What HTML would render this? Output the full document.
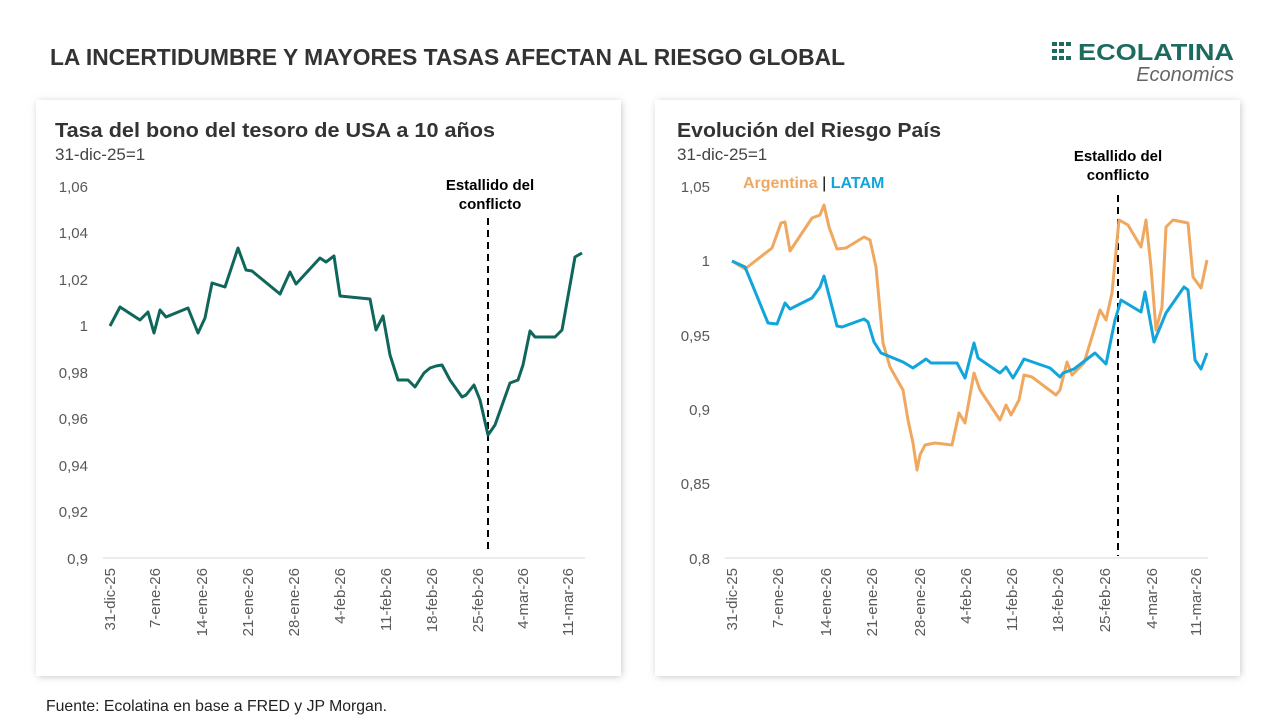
<!DOCTYPE html>
<html><head><meta charset="utf-8"><style>
body{margin:0;width:1280px;height:720px;background:#fff;overflow:hidden;font-family:"Liberation Sans",sans-serif}
</style></head><body>
<svg width="1280" height="720" viewBox="0 0 1280 720" xmlns="http://www.w3.org/2000/svg" font-family="Liberation Sans, sans-serif">
<defs><filter id="sh" x="-5%" y="-5%" width="110%" height="110%"><feGaussianBlur stdDeviation="4"/></filter></defs>
<rect width="1280" height="720" fill="#fff"/>
<text x="50" y="65" font-size="23" font-weight="bold" fill="#333" textLength="795" lengthAdjust="spacingAndGlyphs">LA INCERTIDUMBRE Y MAYORES TASAS AFECTAN AL RIESGO GLOBAL</text>
<g fill="#1d6b5e">
<rect x="1052" y="42" width="5" height="4"/><rect x="1059" y="42" width="5" height="4"/><rect x="1066" y="42" width="5" height="4"/>
<rect x="1052" y="49" width="5" height="4"/><rect x="1059" y="49" width="5" height="4"/>
<rect x="1052" y="56" width="5" height="4"/><rect x="1059" y="56" width="5" height="4"/><rect x="1066" y="56" width="5" height="4"/>
</g>
<text x="1078" y="60" font-size="23" font-weight="bold" fill="#1d6b5e" textLength="156" lengthAdjust="spacingAndGlyphs">ECOLATINA</text>
<text x="1234" y="81" font-size="20" font-style="italic" fill="#666" text-anchor="end">Economics</text>

<rect x="38" y="102" width="583" height="574" fill="#bbb" filter="url(#sh)"/>
<rect x="36" y="100" width="585" height="576" fill="#fff"/>
<rect x="657" y="102" width="583" height="574" fill="#bbb" filter="url(#sh)"/>
<rect x="655" y="100" width="585" height="576" fill="#fff"/>

<text x="55" y="137" font-size="20" font-weight="bold" fill="#333" textLength="440" lengthAdjust="spacingAndGlyphs">Tasa del bono del tesoro de USA a 10 años</text>
<text x="55" y="160" font-size="17" fill="#444">31-dic-25=1</text>
<text x="677" y="137" font-size="20" font-weight="bold" fill="#333" textLength="264" lengthAdjust="spacingAndGlyphs">Evolución del Riesgo País</text>
<text x="677" y="160" font-size="17" fill="#444">31-dic-25=1</text>

<g font-size="15" fill="#595959" text-anchor="end">
<text x="88" y="192">1,06</text><text x="88" y="238">1,04</text><text x="88" y="285">1,02</text><text x="88" y="331">1</text><text x="88" y="378">0,98</text><text x="88" y="424">0,96</text><text x="88" y="471">0,94</text><text x="88" y="517">0,92</text><text x="88" y="564">0,9</text>
<text x="710" y="192">1,05</text><text x="710" y="266">1</text><text x="710" y="341">0,95</text><text x="710" y="415">0,9</text><text x="710" y="489">0,85</text><text x="710" y="564">0,8</text>
</g>
<line x1="103" y1="558" x2="585" y2="558" stroke="#d9d9d9"/>
<line x1="725" y1="558" x2="1208" y2="558" stroke="#d9d9d9"/>
<g font-size="15" fill="#595959" text-anchor="end">
<text transform="translate(115,568) rotate(-90)">31-dic-25</text>
<text transform="translate(160,568) rotate(-90)">7-ene-26</text>
<text transform="translate(207,568) rotate(-90)">14-ene-26</text>
<text transform="translate(253,568) rotate(-90)">21-ene-26</text>
<text transform="translate(299,568) rotate(-90)">28-ene-26</text>
<text transform="translate(345,568) rotate(-90)">4-feb-26</text>
<text transform="translate(391,568) rotate(-90)">11-feb-26</text>
<text transform="translate(437,568) rotate(-90)">18-feb-26</text>
<text transform="translate(483,568) rotate(-90)">25-feb-26</text>
<text transform="translate(528,568) rotate(-90)">4-mar-26</text>
<text transform="translate(573,568) rotate(-90)">11-mar-26</text>
<text transform="translate(737,568) rotate(-90)">31-dic-25</text>
<text transform="translate(783,568) rotate(-90)">7-ene-26</text>
<text transform="translate(831,568) rotate(-90)">14-ene-26</text>
<text transform="translate(877,568) rotate(-90)">21-ene-26</text>
<text transform="translate(925,568) rotate(-90)">28-ene-26</text>
<text transform="translate(971,568) rotate(-90)">4-feb-26</text>
<text transform="translate(1017,568) rotate(-90)">11-feb-26</text>
<text transform="translate(1063,568) rotate(-90)">18-feb-26</text>
<text transform="translate(1110,568) rotate(-90)">25-feb-26</text>
<text transform="translate(1157,568) rotate(-90)">4-mar-26</text>
<text transform="translate(1201,568) rotate(-90)">11-mar-26</text>
</g>

<line x1="488" y1="218" x2="488" y2="550" stroke="#000" stroke-width="2" stroke-dasharray="7,5"/>
<text x="490" y="190" font-size="15" font-weight="bold" text-anchor="middle" fill="#000">Estallido del</text>
<text x="490" y="209" font-size="15" font-weight="bold" text-anchor="middle" fill="#000">conflicto</text>
<line x1="1118" y1="195" x2="1118" y2="556" stroke="#000" stroke-width="2" stroke-dasharray="7,5"/>
<text x="1118" y="161" font-size="15" font-weight="bold" text-anchor="middle" fill="#000">Estallido del</text>
<text x="1118" y="180" font-size="15" font-weight="bold" text-anchor="middle" fill="#000">conflicto</text>

<polyline fill="none" stroke="#0f665a" stroke-width="3" stroke-linejoin="round" points="110,326 120,307 140,320 148,312 154,333 160,310 166,317 188,308 198,333 205,318 212,283 225,287 238,248 246,270 252,271 280,294 290,272 296,284 320,258 326,262 334,256 340,296 370,299 376,330 383,316 390,355 398,380 408,380 415,387 424,373 430,368 436,366 442,365 450,380 462,397 466,395 474,385 480,400 488,435 495,425 510,383 518,380 523,365 530,331 535,337 555,337 562,330 575,257 582,253"/>

<text x="743" y="188" font-size="16" font-weight="bold" fill="#f0a860">Argentina <tspan fill="#000" font-weight="normal">|</tspan> <tspan fill="#12a5dc">LATAM</tspan></text>

<polyline fill="none" stroke="#f0a860" stroke-width="3" stroke-linejoin="round" points="732,261 745,269 772,248 781,223 785,222 790,251 812,218 820,215 824,205 829,227 837,249 846,248 864,237 870,240 876,267 883,343 890,367 903,390 908,420 913,443 917,470 920,455 925,445 935,443 952,445 959,413 965,423 974,373 980,390 1000,420 1006,405 1011,415 1019,400 1024,375 1032,377 1056,395 1060,390 1067,362 1072,375 1084,363 1095,327 1100,310 1106,320 1112,293 1119,220 1128,225 1141,247 1146,220 1151,267 1156,330 1162,307 1166,227 1173,220 1188,223 1193,277 1201,288 1207,260"/>
<polyline fill="none" stroke="#12a5dc" stroke-width="3" stroke-linejoin="round" points="732,261 745,267 768,323 777,324 785,303 790,309 812,298 820,287 824,276 837,326 842,327 864,319 868,322 874,342 881,353 903,362 913,368 926,359 931,363 957,363 965,378 974,343 978,358 1000,373 1006,367 1013,378 1019,368 1024,359 1050,368 1060,377 1063,373 1074,369 1095,353 1106,364 1115,320 1121,300 1141,312 1145,292 1154,342 1166,313 1184,287 1188,290 1195,360 1201,369 1207,353"/>

<text x="46" y="711" font-size="16" fill="#222" textLength="341" lengthAdjust="spacingAndGlyphs">Fuente: Ecolatina en base a FRED y JP Morgan.</text>
</svg>
</body></html>
